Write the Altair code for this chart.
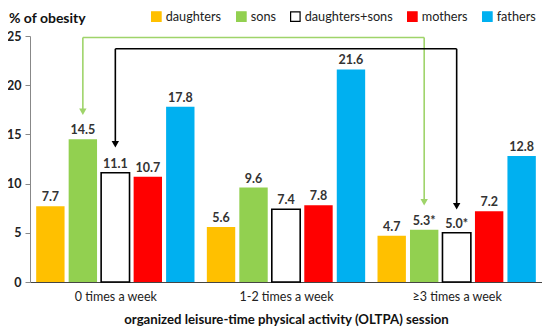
import altair as alt
import pandas as pd

groups = ["0 times a week", "1-2 times a week", "≥3 times a week"]
series = ["daughters", "sons", "daughters+sons", "mothers", "fathers"]
daughters = [7.7, 5.6, 4.7]
sons = [14.5, 9.6, 5.3]
both = [11.1, 7.4, 5.0]
mothers = [10.7, 7.8, 7.2]
fathers = [17.8, 21.6, 12.8]
values = [daughters, sons, both, mothers, fathers]
label_text = [
    ["7.7", "5.6", "4.7"],
    ["14.5", "9.6", "5.3*"],
    ["11.1", "7.4", "5.0*"],
    ["10.7", "7.8", "7.2"],
    ["17.8", "21.6", "12.8"],
]
fills = ["#FFC000", "#92D050", "#FFFFFF", "#FF0000", "#00B0F0"]
strokes = ["#FFC000", "#92D050", "#000000", "#FF0000", "#00B0F0"]

# arrows (annotation): series index, top level, tip at group 0, tip at group 2, colour
arrow_series = [1, 2]
arrow_top = [24.85, 23.7]
arrow_tip_first = [16.8, 13.5]
arrow_tip_last = [7.6, 7.2]
arrow_colors = ["#9FD46A", "#000000"]

FONT = "Lato"
inner, outer = 0.126, 0.19
step = 1.0 / (5 - inner + 2 * outer)

rows = []
for i, s in enumerate(series):
    for g in range(len(groups)):
        x0 = g + (outer + i) * step
        x1 = x0 + (1 - inner) * step
        rows.append(dict(series=s, g=g, x0=x0, x1=x1, xc=(x0 + x1) / 2,
                         value=values[i][g], label=label_text[i][g]))
df = pd.DataFrame(rows)

def center(g, i):
    x0 = g + (outer + i) * step
    return x0 + (1 - inner) * step / 2

seg_rows, head_rows = [], []
for k, i in enumerate(arrow_series):
    xa, xb = center(0, i), center(2, i)
    col = arrow_colors[k]
    seg_rows.append(dict(x=xa, x2=xa, y=arrow_top[k], y2=arrow_tip_first[k] + 0.6, col=col))
    seg_rows.append(dict(x=xa, x2=xb, y=arrow_top[k], y2=arrow_top[k], col=col))
    seg_rows.append(dict(x=xb, x2=xb, y=arrow_top[k], y2=arrow_tip_last[k] + 0.6, col=col))
    head_rows.append(dict(x=xa, y=arrow_tip_first[k] + 0.5, col=col))
    head_rows.append(dict(x=xb, y=arrow_tip_last[k] + 0.5, col=col))
seg = pd.DataFrame(seg_rows)
heads = pd.DataFrame(head_rows)

xscale = alt.Scale(domain=[0, 3], nice=False, zero=False)
yscale = alt.Scale(domain=[0, 25], nice=False)

label_expr = "datum.value < 1 ? '0 times a week' : datum.value < 2 ? '1-2 times a week' : '≥3 times a week'"

legend = alt.Legend(
    title=None, orient="none", legendX=120, legendY=-26, direction="horizontal",
    symbolType="square", symbolSize=90, symbolStrokeWidth=1.2, labelFont=FONT,
    labelFontSize=12.7, labelColor="#222222", columnPadding=12, labelOffset=3,
    symbolOffset=0, padding=0,
)

bars = alt.Chart(df).mark_bar().encode(
    x=alt.X("x0:Q", scale=xscale, axis=alt.Axis(
        values=[0.5, 1.5, 2.5], labelExpr=label_expr, ticks=False, grid=False,
        domainColor="#444444", domainWidth=1.2, labelFont=FONT, labelFontSize=12.5,
        labelColor="#222222", labelPadding=8,
        title="organized leisure-time physical activity (OLTPA) session",
        titleFont=FONT, titleFontSize=13.2, titleFontWeight="bold", titleColor="#111111",
        titlePadding=11)),
    x2="x1:Q",
    y=alt.Y("value:Q", scale=yscale, axis=alt.Axis(
        values=[0, 5, 10, 15, 20, 25], grid=False, domainColor="#888888", tickColor="#888888",
        tickSize=5, labelFont=FONT, labelFontSize=12.5, labelFontWeight="bold",
        labelColor="#222222", labelPadding=4, title=None)),
    y2=alt.datum(0),
    fill=alt.Fill("series:N", scale=alt.Scale(domain=series, range=fills), legend=legend),
    stroke=alt.Stroke("series:N", scale=alt.Scale(domain=series, range=strokes), legend=legend),
    strokeWidth=alt.condition("datum.series == 'daughters+sons'", alt.value(1.6), alt.value(0)),
)

text = alt.Chart(df).mark_text(dy=-9, font=FONT, fontSize=12.5, fontWeight="bold",
                               color="#333333").encode(
    x=alt.X("xc:Q", scale=xscale), y=alt.Y("value:Q", scale=yscale), text="label:N")

rules = alt.Chart(seg).mark_rule(strokeWidth=1.6).encode(
    x=alt.X("x:Q", scale=xscale), x2="x2:Q",
    y=alt.Y("y:Q", scale=yscale), y2="y2:Q",
    color=alt.Color("col:N", scale=None))

arrowheads = alt.Chart(heads).mark_point(shape="triangle-down", filled=True, size=55,
                                          opacity=1).encode(
    x=alt.X("x:Q", scale=xscale), y=alt.Y("y:Q", scale=yscale),
    color=alt.Color("col:N", scale=None))

title = alt.Chart(pd.DataFrame({"t": ["% of obesity"]})).mark_text(
    align="left", baseline="alphabetic", font=FONT, fontSize=14, fontWeight="bold",
    color="#111111").encode(x=alt.value(-21), y=alt.value(-13), text="t:N")

chart = alt.layer(bars, rules, arrowheads, text, title).properties(
    width=512, height=246,
    autosize=alt.AutoSizeParams(type="none"),
    padding={"left": 22, "top": 28, "right": 0, "bottom": 46},
).configure_view(stroke=None)

chart.save("out.html", embed_options={"renderer": "svg", "actions": False})
